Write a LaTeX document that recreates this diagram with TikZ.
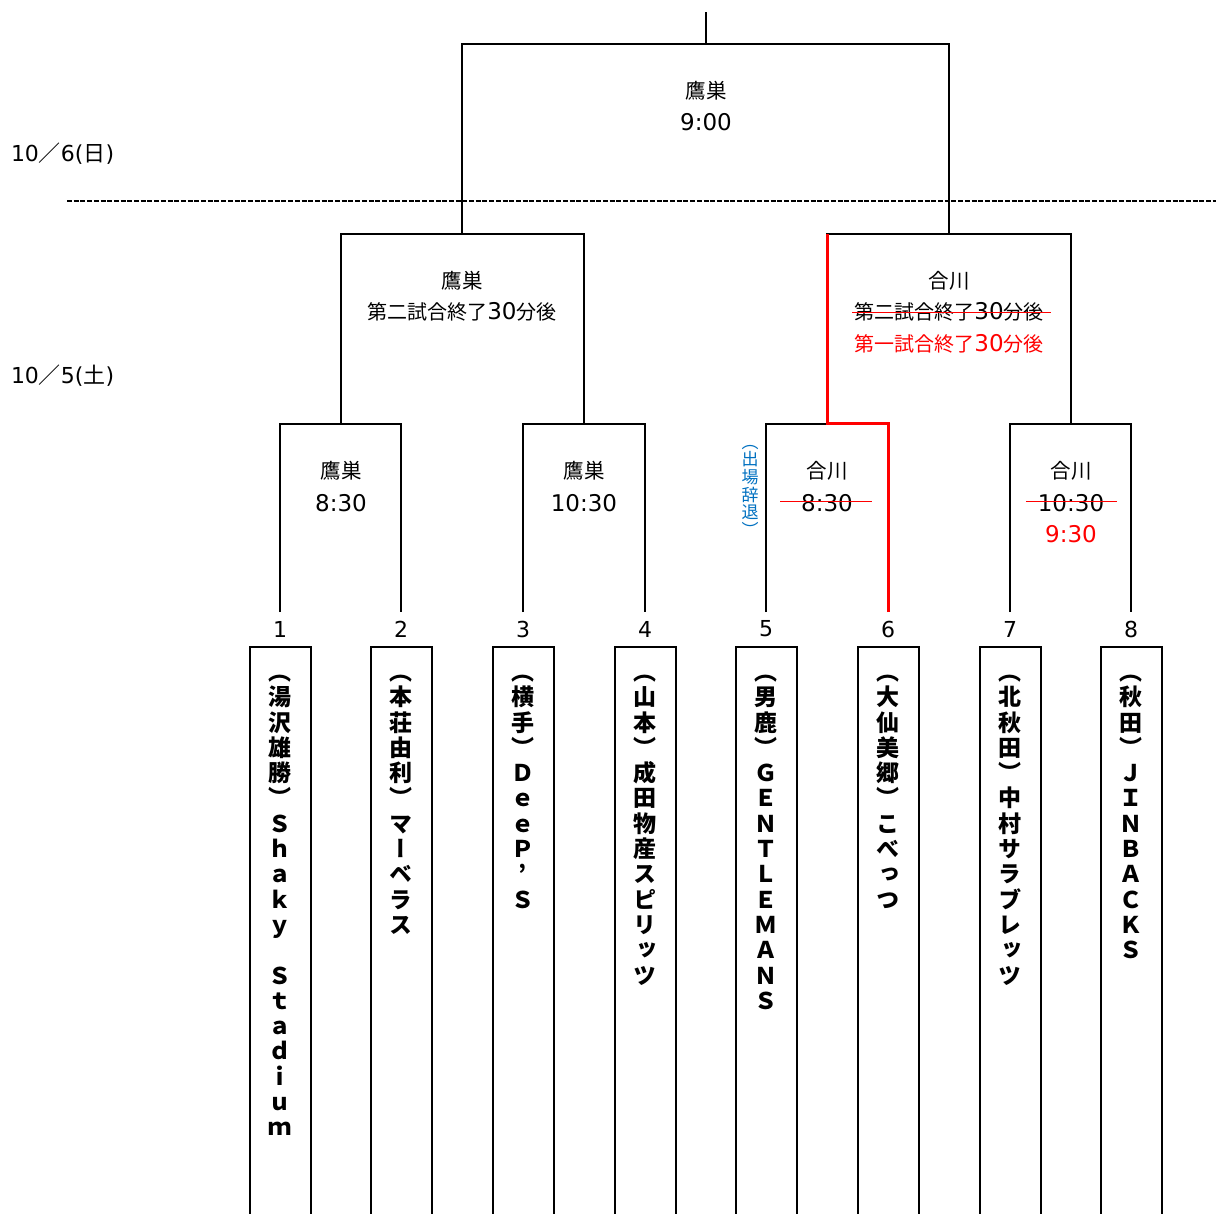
\documentclass[tikz,border=0pt]{standalone}
\usepackage{fontspec}
\setmainfont{Noto Sans CJK JP}
\newfontfamily\dv{DejaVu Sans}
\newfontfamily\vfont[RawFeature=+vert]{Noto Sans CJK JP}
\newfontfamily\vfontb[RawFeature=+vert]{Noto Sans CJK JP}
\newfontfamily\labfont{Noto Sans CJK JP}
\definecolor{xblue}{RGB}{0,112,192}
\def\vst#1{\ifx\relax#1\else\hbox to 0pt{\hss#1\hss}\expandafter\vst\fi}
\newcommand\vtext[3]{\vtop{\fontsize{#1}{#2}\selectfont\lineskiplimit=-1000pt\relax\vst#3\relax}}
\newcommand\thirty{{\dv\fontsize{23}{24}\selectfont 30}}
\begin{document}
\begin{tikzpicture}[x=1pt,y=-1pt,line width=2pt,
  lab/.style={inner sep=0pt,font=\labfont\fontsize{20.5}{24}\selectfont},
  labs/.style={inner sep=0pt,font=\labfont\fontsize{20}{24}\selectfont},
  tm/.style={inner sep=0pt,font=\dv\fontsize{23}{26}\selectfont},
  num/.style={inner sep=0pt,font=\dv\fontsize{22}{24}\selectfont},
  datel/.style={inner sep=0pt,anchor=west,font=\labfont\fontsize{22}{24}\selectfont},
  teambox/.style={draw,line width=2pt,minimum width=61pt,minimum height=640pt,anchor=north,inner sep=0pt},
  vt/.style={inner sep=0pt,anchor=base,font=\vfont\bfseries},
  strike/.style={red,line width=1pt},
  win/.style={red,line width=3pt}]
\useasboundingbox (0,0) rectangle (1216,1214);

% date labels and divider
\node[datel] (d6) at (10,154) {{\dv 10}／{\dv 6(}日{\dv )}};
\node[datel] (d5) at (10,376) {{\dv 10}／{\dv 5(}土{\dv )}};
\coordinate (dl) at (67,201);
\coordinate (dr) at (1216,201);
\draw[line width=1.3pt,dash pattern=on 5pt off 1.7pt] (dl) -- (dr);

% team boxes
\foreach \i/\x in {1/280,2/401,3/523,4/645,5/766,6/888,7/1010,8/1131}{
  \node[teambox] (b\i) at (\x,646) {};
  \node[num] (n\i) at (\x,629) {\i};
  \coordinate (c\i) at (\x,612);
}

% team names (vertical)
\node[vt] (t1) at (280,680.4) {\vtext{23}{25.3}{︵湯沢雄勝︶Ｓｈａｋｙ　Ｓｔａｄｉｕｍ}};
\node[vt] (t2) at (401,680.4) {\vtext{23}{25.3}{︵本荘由利︶マーベラス}};
\node[vt] (t3) at (523,680.4) {\vtext{23}{25.3}{︵横手︶ＤｅｅＰ’Ｓ}};
\node[vt] (t4) at (645,680.4) {\vtext{23}{25.3}{︵山本︶成田物産スピリッツ}};
\node[vt] (t5) at (766,680.4) {\vtext{23}{25.3}{︵男鹿︶ＧＥＮＴＬＥＭＡＮＳ}};
\node[vt] (t6) at (888,680.4) {\vtext{23}{25.3}{︵大仙美郷︶こべっつ}};
\node[vt] (t7) at (1010,680.4) {\vtext{23}{25.3}{︵北秋田︶中村サラブレッツ}};
\node[vt] (t8) at (1131,680.4) {\vtext{23}{25.3}{︵秋田︶ＪＩＮＢＡＣＫＳ}};

% bracket points
\coordinate (m1) at (341,424);
\coordinate (m2) at (584,424);
\coordinate (m3) at (827,424);
\coordinate (m4) at (1071,424);
\coordinate (s1) at (462,234);
\coordinate (s2) at (949,234);
\coordinate (f) at (706,44);
\coordinate (top) at (706,12);

\draw (c1) |- (m1) -| (c2);
\draw (c3) |- (m2) -| (c4);
\draw (c5) |- (m3) -| (c6);
\draw (c7) |- (m4) -| (c8);
\draw (m1) |- (s1) -| (m2);
\draw (m3) |- (s2) -| (m4);
\draw (s1) |- (f) -| (s2);
\draw (f) -- (top);
\draw[win] (c6) |- (m3) -- (m3 |- s2);

% match labels
\node[lab] (fa) at (706,91) {鷹巣};
\node[tm] (fb) at (706,122) {9:00};

\node[lab] (s1a) at (462,281) {鷹巣};
\node[labs] (s1b) at (462,312) {第二試合終了\thirty 分後};

\node[lab] (s2a) at (949,281) {合川};
\node[labs] (s2b) at (949,312) {第二試合終了\thirty 分後};
\node[labs,text=red] (s2c) at (949,344) {第一試合終了\thirty 分後};
\draw[strike] ([xshift=-1pt,yshift=-1pt]s2b.west) -- ([xshift=6pt,yshift=-1pt]s2b.east);

\node[lab] (m1a) at (341,471) {鷹巣};
\node[tm] (m1b) at (341,503) {8:30};
\node[lab] (m2a) at (584,471) {鷹巣};
\node[tm] (m2b) at (584,503) {10:30};
\node[lab] (m3a) at (827,471) {合川};
\node[tm] (m3b) at (827,503) {8:30};
\draw[strike] ([xshift=-20pt,yshift=2pt]m3b.west) -- ([xshift=18pt,yshift=2pt]m3b.east);
\node[lab] (m4a) at (1071,471) {合川};
\node[tm] (m4b) at (1071,503) {10:30};
\node[tm,text=red] (m4c) at (1071,534) {9:30};
\draw[strike] ([xshift=-11pt,yshift=2pt]m4b.west) -- ([xshift=12pt,yshift=2pt]m4b.east);

% withdrawal note
\node[inner sep=0pt,anchor=base,text=xblue,font=\vfontb] (wd) at (750,448.3) {\vtext{17}{17.6}{︵出場辞退︶}};
\end{tikzpicture}
\end{document}
